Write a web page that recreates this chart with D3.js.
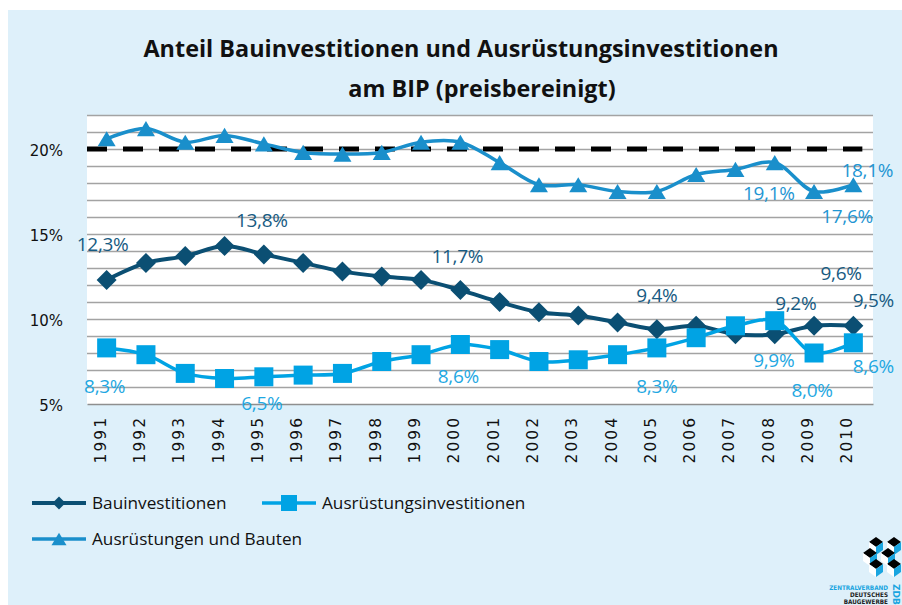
<!DOCTYPE html>
<html>
<head>
<meta charset="utf-8">
<script src="https://cdn.jsdelivr.net/npm/d3@7"></script>
<style>
  html, body { margin: 0; padding: 0; background: #ffffff; }
  svg { display: block; }
</style>
</head>
<body>
<svg id="chart" width="902" height="605"></svg>
<script>
// ---------------- data ----------------
const years = ["1991","1992","1993","1994","1995","1996","1997","1998","1999","2000",
               "2001","2002","2003","2004","2005","2006","2007","2008","2009","2010"];
const bauinvestitionen = [12.3, 13.3, 13.7, 14.3, 13.8, 13.3, 12.8, 12.5, 12.3, 11.7,
                          11.0, 10.4, 10.2, 9.8, 9.4, 9.6, 9.1, 9.1, 9.6, 9.6];
const ausruestungsinvestitionen = [8.3, 7.9, 6.8, 6.5, 6.6, 6.7, 6.8, 7.5, 7.9, 8.5,
                                   8.2, 7.5, 7.6, 7.9, 8.3, 8.9, 9.6, 9.9, 8.0, 8.6];
const ausruestungenUndBauten = [20.6, 21.2, 20.4, 20.8, 20.3, 19.8, 19.7, 19.8, 20.4, 20.4,
                                19.2, 17.9, 17.9, 17.5, 17.5, 18.5, 18.8, 19.2, 17.5, 17.9];
const referenceLevel = 20;
const yTicks = [5, 10, 15, 20];
const seriesNames = ["Bauinvestitionen", "Ausrüstungsinvestitionen", "Ausrüstungen und Bauten"];
const titleLines = ["Anteil Bauinvestitionen und Ausrüstungsinvestitionen", "am BIP (preisbereinigt)"];

// data labels: series index, year, text
const labelSeries = [0,0,0,0,0,0,0, 1,1,1,1,1,1,1, 2,2,2];
const labelYears  = ["1991","1995","2000","2005","2008","2009","2010",
                     "1991","1995","2000","2005","2008","2009","2010",
                     "2008","2009","2010"];
const labelTexts  = ["12,3%","13,8%","11,7%","9,4%","9,2%","9,6%","9,5%",
                     "8,3%","6,5%","8,6%","8,3%","9,9%","8,0%","8,6%",
                     "19,1%","17,6%","18,1%"];

// ---------------- layout / style ----------------
const labelOffsets = [[-4,-29],[-2,-27],[-3,-27],[0,-27],[21,-24],[27,-46],[20,-19],
                      [-2,45],[-2,33],[-2,38],[0,45],[-1,46],[-2,44],[20,30],
                      [-6,37],[33,31],[14,-8]];
const colors = ["#0b4f73", "#00a3e4", "#1a8fcb"];
const labelColors = ["#175b82", "#1fa8e2", "#1f96d3"];
const widths = [4, 3.5, 3.5];
const bg = "#def0fa";
const W = 902, H = 605;
const plot = {left: 87, right: 873, top: 115, bottom: 404};

const svg = d3.select("#chart");
svg.append("rect").attr("x", 8).attr("y", 10).attr("width", W - 8).attr("height", H - 10).attr("fill", bg);

// title
svg.append("text").attr("x", 461).attr("y", 57).attr("text-anchor", "middle")
  .style("font-family", "'Open Sans', sans-serif").style("font-weight", 700).style("font-size", "23.4px")
  .attr("fill", "#111").text(titleLines[0]);
svg.append("text").attr("x", 482).attr("y", 97).attr("text-anchor", "middle")
  .style("font-family", "'Open Sans', sans-serif").style("font-weight", 700).style("font-size", "23.4px")
  .attr("fill", "#111").text(titleLines[1]);

// scales
const x = d3.scaleBand().domain(years).range([plot.left, plot.right]).padding(0);
const y = d3.scaleLinear().domain([5, 22]).range([plot.bottom, plot.top]);
const cx = d => x(d) + x.bandwidth() / 2;

// plot area
svg.append("rect").attr("x", plot.left).attr("y", plot.top)
  .attr("width", plot.right - plot.left).attr("height", plot.bottom - plot.top).attr("fill", "#fff");

// gridlines every 1%
const gridAxis = d3.axisLeft(y).tickValues(d3.range(6, 23, 1)).tickSize(-(plot.right - plot.left)).tickFormat("");
const gg = svg.append("g").attr("transform", `translate(${plot.left},0)`).call(gridAxis);
gg.select(".domain").remove();
gg.selectAll("line").attr("stroke", "#a3a3a3").attr("stroke-width", 1.6);

// y axis labels
const yAxis = d3.axisLeft(y).tickValues(yTicks).tickSize(0).tickPadding(0).tickFormat(d => d + "%");
const ya = svg.append("g").attr("transform", `translate(63,0)`).call(yAxis);
ya.select(".domain").remove();
ya.selectAll("text").style("font-family", "'DejaVu Sans', sans-serif").style("font-size", "15px")
  .attr("fill", "#111").attr("dy", "0.45em");

// x axis
const xAxis = d3.axisBottom(x).tickSize(0).tickPadding(0);
const xa = svg.append("g").attr("transform", `translate(0,${plot.bottom})`).call(xAxis);
xa.select(".domain").attr("stroke", "#8f8f8f").attr("stroke-width", 1.6);
xa.selectAll("text")
  .style("font-family", "'DejaVu Sans', sans-serif").style("font-size", "15.5px")
  .style("letter-spacing", "2px")
  .attr("fill", "#111")
  .attr("text-anchor", "end")
  .attr("dy", 0)
  .attr("transform", "translate(-1,12) rotate(-90)")
  .attr("y", 0).attr("x", 0);

// reference dashed line at 20%
svg.append("line").attr("x1", plot.left).attr("x2", cx("2010") + 9)
  .attr("y1", y(referenceLevel)).attr("y2", y(referenceLevel))
  .attr("stroke", "#000").attr("stroke-width", 5).attr("stroke-dasharray", "20,16");

// series
const allSeries = [bauinvestitionen, ausruestungsinvestitionen, ausruestungenUndBauten];
const line = d3.line().x((d, i) => cx(years[i])).y(d => y(d)).curve(d3.curveCatmullRom.alpha(0.5));

function marker(sel, type, size, color) {
  if (type === 0) {
    const s = size / 2;
    sel.append("path").attr("d", `M0,${-s}L${s},0L0,${s}L${-s},0Z`).attr("fill", color);
  } else if (type === 1) {
    sel.append("rect").attr("x", -size / 2).attr("y", -size / 2).attr("width", size).attr("height", size).attr("fill", color);
  } else {
    const w = size / 2, h = size * 0.42;
    sel.append("path").attr("d", `M0,${-h}L${w},${h}L${-w},${h}Z`).attr("fill", color);
  }
}

const markerSizes = [20, 19, 18];
allSeries.forEach((vals, si) => {
  svg.append("path").datum(vals).attr("d", line).attr("fill", "none")
    .attr("stroke", colors[si]).attr("stroke-width", widths[si]).attr("stroke-linejoin", "round");
});
[0, 1, 2].forEach(si => {
  allSeries[si].forEach((v, i) => {
    const g = svg.append("g").attr("transform", `translate(${cx(years[i])},${y(v)})`);
    marker(g, si, markerSizes[si], colors[si]);
  });
});

// data labels
labelTexts.forEach((t, k) => {
  const si = labelSeries[k];
  const i = years.indexOf(labelYears[k]);
  const v = allSeries[si][i];
  svg.append("text")
    .attr("x", cx(labelYears[k]) + labelOffsets[k][0])
    .attr("y", y(v) + labelOffsets[k][1])
    .attr("text-anchor", "middle")
    .style("font-family", "'Open Sans', sans-serif").style("font-size", "19px")
    .style("letter-spacing", "-0.3px")
    .attr("fill", labelColors[si]).text(t);
});

// legend
const legendPos = [[32, 503], [262, 503], [32, 539]];
seriesNames.forEach((name, si) => {
  const [lx, ly] = legendPos[si];
  const g = svg.append("g").attr("transform", `translate(${lx},${ly})`);
  g.append("line").attr("x1", 0).attr("x2", 54).attr("y1", 0).attr("y2", 0)
    .attr("stroke", colors[si]).attr("stroke-width", widths[si]);
  const m = g.append("g").attr("transform", "translate(27,0)");
  marker(m, si, [13, 16, 15][si], colors[si]);
  g.append("text").attr("x", 60).attr("y", 0).attr("dy", "0.36em")
    .style("font-family", "'Open Sans', sans-serif").style("font-size", "17.2px")
    .attr("fill", "#111").text(name);
});

// logo (ZDB)
const logo = svg.append("g").attr("transform", "translate(862,536)");
const cubes = [[14,6],[32,6],[8,17],[26,17],[14,28],[32,28]];
cubes.forEach(([ux, uy]) => {
  const s = 7;
  logo.append("path").attr("d", `M${ux},${uy - s / 1.4}L${ux + s},${uy}L${ux},${uy + s / 1.4}L${ux - s},${uy}Z`).attr("fill", "#000");
  logo.append("path").attr("d", `M${ux - s},${uy}L${ux},${uy + s / 1.4}L${ux},${uy + s / 1.4 + 8}L${ux - s},${uy + 8}Z`).attr("fill", "#ffffff");
  logo.append("path").attr("d", `M${ux},${uy + s / 1.4}L${ux + s},${uy}L${ux + s},${uy + 8}L${ux},${uy + s / 1.4 + 8}Z`).attr("fill", "#1aa5e0");
});
const logoFont = "'DejaVu Sans Condensed', 'DejaVu Sans', sans-serif";
svg.append("text").attr("x", 888).attr("y", 590).attr("text-anchor", "end")
  .style("font-family", logoFont).style("font-weight", 700).style("font-size", "6.3px")
  .attr("fill", "#1aa5e0").text("ZENTRALVERBAND");
svg.append("text").attr("x", 888).attr("y", 597).attr("text-anchor", "end")
  .style("font-family", logoFont).style("font-weight", 700).style("font-size", "6.3px")
  .attr("fill", "#222").text("DEUTSCHES");
svg.append("text").attr("x", 888).attr("y", 604).attr("text-anchor", "end")
  .style("font-family", logoFont).style("font-weight", 700).style("font-size", "6.3px")
  .attr("fill", "#222").text("BAUGEWERBE");
svg.append("text").attr("transform", "translate(893,584) rotate(90)")
  .style("font-family", "'DejaVu Sans', sans-serif").style("font-weight", 700).style("font-size", "9px")
  .attr("fill", "#1aa5e0").text("ZDB");
</script>
</body>
</html>
